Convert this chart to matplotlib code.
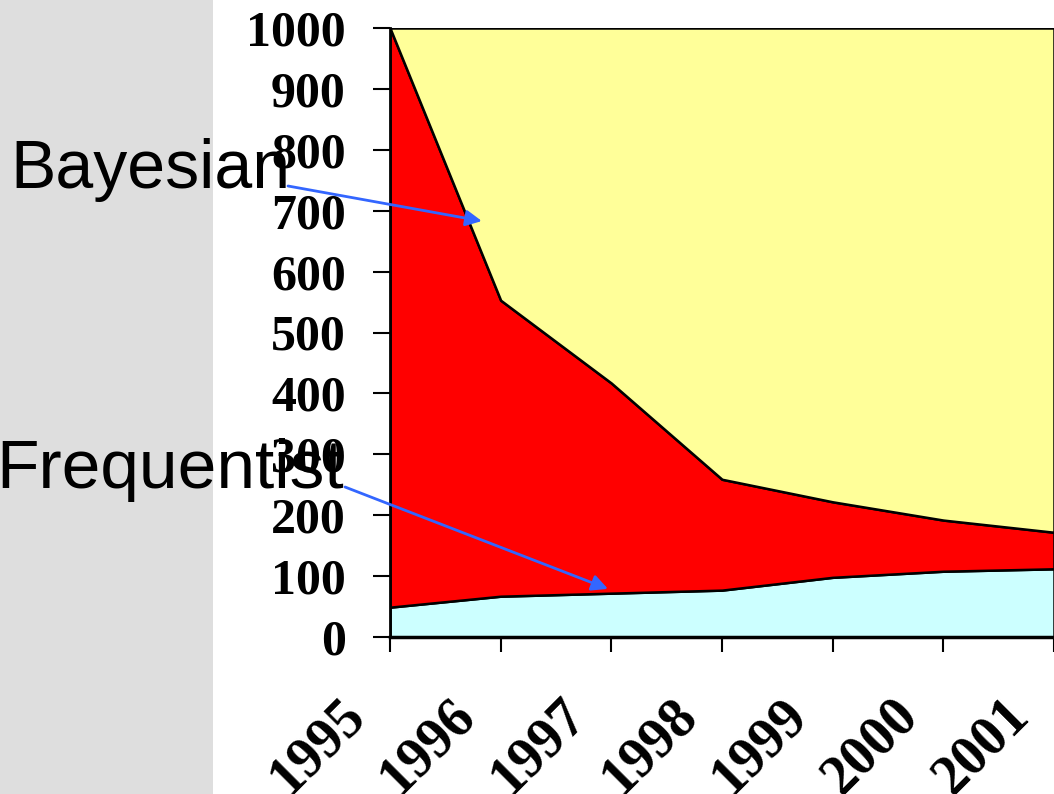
import numpy as np
import matplotlib
matplotlib.use("Agg")
import matplotlib.pyplot as plt
from matplotlib.patches import Rectangle
from matplotlib.transforms import ScaledTranslation

years = [1995, 1996, 1997, 1998, 1999, 2000, 2001]
year_labels = ["1995", "1996", "1997", "1998", "1999", "2000", "2001"]
frequentist = [49, 67, 72, 77, 98, 108, 112]
bayesian = [951, 486, 345, 182, 124, 84, 60]
other = [0, 447, 583, 741, 778, 808, 828]
y_ticks = [0, 100, 200, 300, 400, 500, 600, 700, 800, 900, 1000]

fig = plt.figure(figsize=(10.54, 7.94), dpi=100)
fig.patches.append(Rectangle((0, 0), 213 / 1054, 1, transform=fig.transFigure,
                             facecolor='#DEDEDE', edgecolor='none', zorder=0))

ax = fig.add_axes([390 / 1054, 1 - 637 / 794, 1 - 390 / 1054, (637 - 28) / 794])
ax.stackplot(years, frequentist, bayesian, other,
             colors=['#CCFFFF', '#FF0000', '#FFFF99'],
             edgecolor='black', linewidth=1.8)
ax.set_xlim(1995, 2001)
ax.set_ylim(0, 1000)

for s in ['top', 'right']:
    ax.spines[s].set_visible(False)
ax.spines['left'].set_linewidth(2)
ax.spines['bottom'].set_linewidth(2.5)

ax.set_yticks(y_ticks)
ax.set_yticklabels([str(v) for v in y_ticks],
                   fontdict=dict(family='Liberation Serif', weight='bold', size=36))
ax.tick_params(axis='y', direction='out', length=12, width=1.5, pad=20)
ax.set_xticks(years)
ax.set_xticklabels(year_labels,
                   fontdict=dict(family='Liberation Serif', weight='bold', size=40),
                   rotation=45, ha='right', rotation_mode='anchor')
ax.tick_params(axis='x', direction='out', length=11, width=1.5, pad=26)
for lab in ax.get_xticklabels():
    lab.set_transform(lab.get_transform() + ScaledTranslation(-0.52, 0, fig.dpi_scale_trans))

fig.text(10 / 1054, 1 - 188 / 794, 'Bayesian', fontsize=49,
         family='Liberation Sans', va='baseline', ha='left')
fig.text(-4 / 1054, 1 - 488 / 794, 'Frequentist', fontsize=50,
         family='Liberation Sans', va='baseline', ha='left')

arrow = dict(arrowstyle='-|>', color='#3366FF', lw=2, mutation_scale=24,
             shrinkA=0, shrinkB=0)
ax.annotate('', xy=(1995.83, 683), xytext=(288 / 1054, 1 - 186 / 794),
            textcoords='figure fraction', arrowprops=arrow, annotation_clip=False)
ax.annotate('', xy=(1996.97, 79), xytext=(345 / 1054, 1 - 487 / 794),
            textcoords='figure fraction', arrowprops=arrow, annotation_clip=False)

fig.savefig('out.png', dpi=100)
